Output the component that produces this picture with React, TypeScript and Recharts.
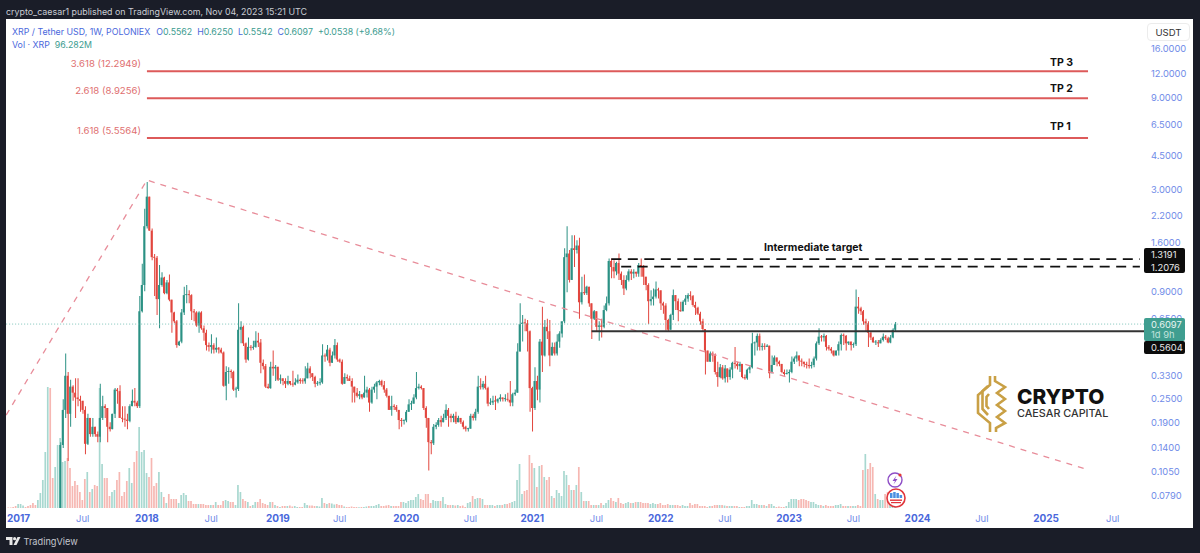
import React from "react";
import { ComposedChart, Bar, Line, XAxis, YAxis, Cell } from "recharts";

// weekly candles as [high, low, close]; week 0 = first week of 2017
const FIRST_CANDLE = 17;
const FIRST_OPEN = 0.04;
const candles2017: number[][] = [
  [.15,.045,.145],[.25,.14,.22],[.43,.2,.33],[.345,.12,.21],[.315,.18,.29],[.295,.245,.27],[.32,.2,.255],[.32,.23,.25],[.26,.215,.245],[.245,.21,.22],
  [.23,.13,.147],[.21,.145,.2],[.18,.16,.165],[.2,.16,.18],[.18,.16,.165],[.17,.15,.16],[.3,.15,.2],[.26,.195,.23],[.235,.2,.225],[.22,.15,.18],
  [.19,.17,.175],[.21,.175,.21],[.285,.2,.28],[.285,.237,.275],[.295,.2,.2],[.23,.19,.198],[.23,.18,.196],[.21,.175,.193],[.235,.19,.23],[.28,.23,.245],
  [.285,.23,.24],[.245,.225,.23],[.85,.225,.71],[1.25,.7,.97],[2.4,.9,1.95],
];
const candles2018: number[][] = [
  [3.3,1.9,2.77],[2.77,1.85,1.85],[1.9,1.3,1.35],[1.4,.85,1.34],[1.37,.68,.82],[1.23,.58,.97],[1.13,.95,1.06],[1.07,.87,.88],[1.03,.87,1.0],[1.1,.8,.815],
  [.81,.55,.7],[.705,.615,.63],[.64,.46,.475],[.5,.47,.495],[.73,.485,.7],[.95,.68,.86],[.97,.78,.87],[.91,.78,.86],[.87,.64,.71],[.73,.63,.7],
  [.71,.59,.6],[.71,.55,.7],[.71,.57,.58],[.6,.5,.55],[.57,.445,.475],[.49,.44,.465],[.54,.43,.475],[.485,.43,.45],[.52,.435,.46],[.465,.43,.45],
  [.46,.43,.435],[.44,.29,.293],[.37,.247,.345],[.365,.3,.347],[.355,.32,.345],[.35,.275,.28],[.29,.255,.282],[.78,.275,.57],[.63,.485,.59],[.6,.47,.485],
  [.49,.385,.4],[.52,.395,.465],[.475,.445,.46],[.5,.45,.465],[.56,.46,.5],[.55,.465,.49],[.51,.34,.385],[.4,.355,.37],[.38,.285,.29],[.3,.283,.285],
  [.39,.283,.367],[.445,.33,.36],
];
const candles2019: number[][] = [
  [.375,.31,.367],[.365,.31,.315],[.335,.3,.32],[.32,.295,.31],[.32,.285,.3],[.33,.295,.31],[.31,.295,.3],[.35,.29,.297],[.32,.295,.305],[.335,.3,.315],
  [.32,.3,.31],[.32,.3,.309],[.37,.3,.32],[.385,.32,.36],[.37,.32,.34],[.34,.31,.325],[.33,.288,.3],[.31,.293,.302],[.32,.295,.305],[.48,.3,.42],
  [.43,.39,.415],[.475,.395,.45],[.46,.37,.385],[.44,.39,.42],[.51,.405,.475],[.49,.39,.4],[.405,.385,.39],[.4,.297,.3],[.34,.3,.325],[.335,.31,.32],
  [.33,.31,.31],[.32,.24,.29],[.29,.24,.27],[.285,.255,.26],[.275,.25,.265],[.265,.25,.255],[.33,.255,.27],[.29,.255,.28],[.285,.215,.24],[.29,.237,.28],
  [.3,.27,.29],[.31,.25,.305],[.315,.295,.31],[.315,.29,.295],[.31,.27,.28],[.285,.255,.26],[.26,.22,.22],[.26,.205,.23],[.235,.22,.228],[.233,.215,.22],
  [.22,.175,.195],[.2,.18,.193],
];
const candles2020: number[][] = [
  [.196,.185,.194],[.22,.19,.215],[.25,.215,.235],[.245,.22,.237],[.265,.237,.255],[.345,.25,.285],[.3,.28,.29],[.295,.28,.285],[.285,.22,.225],[.23,.178,.2],
  [.2,.107,.15],[.154,.13,.148],[.186,.145,.18],[.19,.175,.184],[.2,.18,.195],[.205,.18,.19],[.21,.19,.2],[.235,.195,.22],[.225,.18,.205],[.21,.19,.2],
  [.21,.19,.205],[.215,.186,.19],[.205,.19,.2],[.2,.186,.19],[.194,.175,.18],[.182,.17,.175],[.178,.17,.176],[.21,.176,.205],[.21,.194,.2],[.223,.194,.215],
  [.33,.21,.29],[.32,.28,.288],[.31,.28,.3],[.33,.28,.285],[.29,.23,.237],[.253,.233,.24],[.26,.233,.245],[.26,.22,.243],[.253,.238,.25],[.265,.243,.255],
  [.253,.243,.25],[.265,.243,.25],[.27,.243,.248],[.31,.23,.24],[.27,.23,.265],[.28,.26,.27],[.485,.27,.44],[.78,.44,.61],[.68,.495,.62],[.65,.56,.615],
  [.64,.44,.56],[.565,.215,.285],
];
const candles2021: number[][] = [
  [.29,.17,.225],[.365,.22,.31],[.33,.247,.28],[.51,.24,.495],[.75,.345,.42],[.64,.415,.59],[.65,.51,.56],[.64,.37,.42],[.49,.42,.465],[.49,.42,.43],
  [.54,.42,.495],[.56,.46,.545],[.63,.52,.63],[1.5,.615,1.35],[1.95,.89,1.41],[1.47,1.0,1.03],[1.75,1.03,1.5],[1.75,1.2,1.47],[1.65,1.41,1.55],[1.7,.65,.79],
  [1.07,.77,.89],[1.1,.86,.88],[.96,.86,.95],[.95,.75,.78],[.78,.51,.65],[.72,.64,.71],[.71,.56,.59],[.63,.5,.6],[.65,.52,.59],[.76,.58,.72],
  [.845,.71,.78],[1.33,.76,1.29],[1.33,1.05,1.2],[1.3,1.05,1.14],[1.28,1.09,1.26],[1.41,1.03,1.11],[1.14,.97,1.03],[1.09,.86,.93],[1.09,.91,1.03],[1.17,1.01,1.14],
  [1.17,1.03,1.11],[1.17,1.05,1.135],[1.135,1.07,1.11],[1.26,1.07,1.23],[1.33,1.07,1.21],[1.23,.97,1.07],[1.07,.91,.97],[.99,.61,.8],[.91,.76,.82],[.93,.76,.845],
  [1.01,.825,.92],[.94,.825,.91],
];
const candles2022: number[][] = [
  [.91,.72,.78],[.795,.69,.76],[.78,.565,.64],[.65,.555,.57],[.69,.58,.68],[.92,.64,.86],[.85,.72,.8],[.825,.63,.72],[.795,.705,.71],[.81,.71,.795],
  [.86,.765,.825],[.88,.795,.86],[.9,.81,.85],[.86,.75,.765],[.795,.68,.74],[.75,.68,.69],[.705,.605,.63],[.65,.555,.575],[.575,.335,.445],[.445,.39,.39],
  [.44,.39,.43],[.44,.39,.42],[.43,.335,.345],[.39,.29,.325],[.38,.32,.365],[.375,.315,.32],[.375,.305,.36],[.34,.305,.325],[.365,.315,.355],[.39,.32,.385],
  [.465,.36,.38],[.39,.355,.37],[.39,.345,.38],[.38,.32,.325],[.335,.315,.32],[.36,.315,.355],[.375,.34,.365],[.55,.36,.485],[.495,.42,.49],[.545,.445,.53],
  [.545,.445,.465],[.485,.445,.47],[.485,.45,.465],[.48,.465,.472],[.472,.32,.34],[.42,.34,.375],[.42,.375,.41],[.405,.37,.39],[.395,.37,.38],[.38,.34,.345],
  [.355,.33,.337],[.355,.335,.34],
];
const candles2023: number[][] = [
  [.355,.305,.345],[.415,.34,.39],[.415,.38,.405],[.44,.39,.42],[.42,.37,.395],[.405,.37,.39],[.38,.365,.38],[.39,.36,.375],[.405,.36,.37],[.39,.36,.375],
  [.415,.365,.405],[.495,.395,.485],[.58,.475,.525],[.535,.495,.52],[.545,.495,.53],[.535,.445,.465],[.475,.445,.455],[.465,.43,.445],[.445,.415,.42],[.44,.42,.445],
  [.495,.42,.48],[.545,.445,.535],[.545,.475,.53],[.535,.445,.485],[.495,.475,.495],[.495,.445,.475],[.49,.46,.48],[.92,.47,.75],[.84,.69,.735],[.75,.68,.71],
  [.72,.605,.63],[.65,.555,.615],[.63,.465,.55],[.555,.505,.52],[.525,.495,.49],[.505,.475,.49],[.505,.465,.485],[.515,.485,.505],[.545,.495,.525],[.535,.505,.515],
  [.525,.485,.49],[.535,.485,.52],[.58,.515,.57],[.625,.5542,.6097],
];
const CANDLES = [...candles2017, ...candles2018, ...candles2019, ...candles2020, ...candles2021, ...candles2022, ...candles2023];

// volume, weeks -4 ... 355, relative units
const FIRST_VOLUME = -4;
const volumes: number[] = [
  .5,.5,1,2,4,4,2.5,1,2,3,5,3,8,15,28,56,121,120,30,41,
  63,70,46,47,50,40,22,27,23,16,8,29,36,16,19,23,22,120,44,30,
  30,12,16,18,28,36,12,16,27,40,25,46,57,81,56,58,35,31,50,22,
  25,36,16,11,5,14,9,9,9,5,13,15,13,7,7,4,4,4,4,4,
  3,3,3,3,6,3,3,7,8,7,6,6,3,23,16,9,7,6,2,3,
  6,6,9,5,4,3,6,6,3,2,1,2,2,2,2.5,1.5,2,1,1,1,
  5,3,2.5,2.5,2,2,1.5,10,5,4,5,4.5,3.5,4,3,3,1.5,1,1,1.5,
  1,1,.7,1,1,1.5,2,2,2,3,4,2,2,2.5,3,2,2,2,2,6,
  6,5,7,8,8,11,14,9,8,14,14,5,8,7,7,7,11,4,3,3,
  3,2.5,3,2,2.5,1,5,6,12,9,10,10,9,3,3,3,3,2,3,3,
  3,4,4,5,6,7,28,44,14,17,18,53,45,40,21,42,43,31,28,31,
  12,10,18,15,12,37,33,23,18,18,23,41,16,7,7,7,3,3,3,3,
  5,3,5,8,10,7,6,10,5,4,5,6,5,5,6,6,6,5,5,5,
  4,5,4,4,5,3,3,4,3,3,3,3,2,3,2,2,5,3,4,4,
  2,2,2,1,2,2,3,3,3,3,2.5,2,2,2,2,2,1,1,1,2,
  2,8,4,4,3,3,3,2,4,4,2,1,1.5,1,1,2,6,9,9,9,
  8,9,9,8,7,6,6,4,3,3,2,3,2,2,2,3,3,4,2,2,
  2,2,2,2,3,2,38,54,39,45,41,14,9,8,8,14,16,10,8,5,
];
const GREEN_VOLUMES = [0, 1, 2, 8, 9, 10, 11, 12, 15, 16, 343];

const Y_TICKS = [16, 12, 9, 6.5, 4.5, 3, 2.2, 1.6, 0.9, 0.65, 0.33, 0.25, 0.19, 0.14, 0.105, 0.079];
const X_TICKS = [0, 26, 52, 78, 105, 130, 157, 183, 208, 234, 260, 286, 312, 338, 364, 390, 416, 443];
const X_LABELS = ["2017", "Jul", "2018", "Jul", "2019", "Jul", "2020", "Jul", "2021", "Jul", "2022", "Jul", "2023", "Jul", "2024", "Jul", "2025", "Jul"];

const FIB_VALUES = [12.2949, 8.9256, 5.5564];
const FIB_WEEKS = [52, 433];
const TREND_POINTS: [number, number][] = [[-5, 0.2067], [52, 3.37], [433, 0.108]];
const TARGET_HIGH = { value: 1.3191, from: 240 };
const TARGET_LOW = { value: 1.2076, from: 244 };
const SUPPORT = { value: 0.5604, from: 232 };
const LAST_PRICE = 0.6097;
const FIRST_WEEK = -5;
const LAST_WEEK = 456;

const UP = "#2b9184";
const DOWN = "#e2463e";
const VOL_UP = "#a8d8d0";
const VOL_DOWN = "#f6b7b2";
const TICK_BLUE = "#6f8be8";

type Row = Record<string, any>;
const rows: Row[] = [];
for (let i = FIRST_WEEK; i <= LAST_WEEK; i++) {
  const r: Row = { i };
  const k = i - FIRST_CANDLE;
  if (k >= 0 && k < CANDLES.length) {
    const [h, l, c] = CANDLES[k];
    const o = k === 0 ? FIRST_OPEN : CANDLES[k - 1][2];
    let top = Math.max(o, c);
    const bot = Math.min(o, c);
    if (top < bot * 1.012) top = bot * 1.012;
    r.wick = [Math.min(l, bot), Math.max(h, top)];
    r.body = [bot, top];
    r.up = c >= o;
  }
  const vi = i - FIRST_VOLUME;
  if (vi >= 0 && vi < volumes.length) {
    r.vol = volumes[vi];
    r.volUp = GREEN_VOLUMES.includes(i) || (r.up === true && i !== 21);
  }
  FIB_VALUES.forEach((v, n) => {
    if (FIB_WEEKS.includes(i)) r["fib" + n] = v;
  });
  const t = TREND_POINTS.find((p) => p[0] === i);
  if (t) r.trend = t[1];
  if (i === TARGET_HIGH.from || i === LAST_WEEK - 2) r.tHigh = TARGET_HIGH.value;
  if (i === TARGET_LOW.from || i === LAST_WEEK - 2) r.tLow = TARGET_LOW.value;
  if (i === SUPPORT.from || i === LAST_WEEK) r.support = SUPPORT.value;
  if (i === FIRST_WEEK || i === LAST_WEEK) r.last = LAST_PRICE;
  rows.push(r);
}

const XTick = (p: any) => {
  const idx = X_TICKS.indexOf(p.payload.value);
  const label = X_LABELS[idx];
  const year = label !== "Jul";
  return (
    <text x={p.x} y={502.5} textAnchor="middle" fontFamily="Inter" fontSize={year ? 10 : 9.5} fontWeight={year ? 700 : 400} fill={year ? "#4a68dc" : "#6f8be8"}>
      {label}
    </text>
  );
};

const abs = (x: number, y: number, extra: React.CSSProperties = {}): React.CSSProperties => ({
  position: "absolute", left: x, top: y, whiteSpace: "nowrap", lineHeight: 1, ...extra,
});

const Tag = ({ y, h, bg, children }: { y: number; h: number; bg: string; children: React.ReactNode }) => (
  <div style={abs(1144, y, { width: 41, height: h, background: bg, borderRadius: 2 })}>{children}</div>
);

const TagText = ({ y, color, children }: { y: number; color: string; children: React.ReactNode }) => (
  <div style={abs(7, y, { color, fontSize: 9.4, fontFamily: "Inter" })}>{children}</div>
);

const fibLabels = [
  { t: "3.618 (12.2949)", y: 59 },
  { t: "2.618 (8.9256)", y: 86 },
  { t: "1.618 (5.5564)", y: 126 },
];
const tpLabels = [
  { t: "TP 3", y: 58 },
  { t: "TP 2", y: 84 },
  { t: "TP 1", y: 122 },
];
const GREEN_TEXT = "#3c9c90";

export default function App() {
  return (
    <div style={{ position: "absolute", left: 0, top: 0, width: 1200, height: 553, background: "#1a1d28", overflow: "hidden", fontFamily: "Inter" }}>
      <div style={abs(6, 8, { color: "#c9ccd3", fontSize: 8.9 })}>crypto_caesar1 published on TradingView.com, Nov 04, 2023 15:21 UTC</div>
      <div style={{ position: "absolute", left: 6, top: 19, width: 1187, height: 509, background: "#fff" }}>
        <ComposedChart width={1187} height={509} data={rows} margin={{ top: 0, right: 0, bottom: 0, left: 0 }}>
          <XAxis xAxisId="w" dataKey="i" type="number" domain={[-5.06, 456.07]} ticks={X_TICKS} interval={0} height={20} axisLine={false} tickLine={false} tickSize={0} tick={<XTick />} allowDataOverflow />
          <XAxis xAxisId="b" dataKey="i" type="number" domain={[-5.06, 456.07]} hide height={0} allowDataOverflow />
          <XAxis xAxisId="v" dataKey="i" type="number" domain={[-5.06, 456.07]} hide height={0} allowDataOverflow />
          <YAxis yAxisId="p" orientation="right" type="number" scale="log" domain={[0.0686, 22.85]} ticks={Y_TICKS} interval={0} width={48} axisLine={false} tickLine={false} tickSize={0} tickMargin={6} allowDataOverflow tick={{ fill: TICK_BLUE, fontSize: 9.3, fontFamily: "Inter", textAnchor: "start" }} tickFormatter={(v: number) => v.toFixed(4)} />
          <YAxis yAxisId="vol" orientation="left" type="number" domain={[0, 489]} hide />
          <Bar xAxisId="v" yAxisId="vol" dataKey="vol" barSize={1.7} isAnimationActive={false}>
            {rows.map((r) => <Cell key={r.i} fill={r.volUp ? VOL_UP : VOL_DOWN} />)}
          </Bar>
          <Bar xAxisId="w" yAxisId="p" dataKey="wick" barSize={1} isAnimationActive={false}>
            {rows.map((r) => <Cell key={r.i} fill={r.up ? UP : DOWN} />)}
          </Bar>
          <Bar xAxisId="b" yAxisId="p" dataKey="body" barSize={2} isAnimationActive={false}>
            {rows.map((r) => <Cell key={r.i} fill={r.up ? UP : DOWN} />)}
          </Bar>
          <Line xAxisId="w" yAxisId="p" dataKey="last" stroke="#7fc4ba" strokeWidth={1} strokeDasharray="1 2" dot={false} connectNulls isAnimationActive={false} />
          <Line xAxisId="w" yAxisId="p" dataKey="trend" stroke="#e88d9a" strokeWidth={1.3} strokeDasharray="6 6" dot={false} connectNulls isAnimationActive={false} />
          {FIB_VALUES.map((_, n) => (
            <Line key={n} xAxisId="w" yAxisId="p" dataKey={"fib" + n} stroke="#dd5a5a" strokeWidth={2} dot={false} connectNulls isAnimationActive={false} />
          ))}
          <Line xAxisId="w" yAxisId="p" dataKey="tHigh" stroke="#111" strokeWidth={1.8} strokeDasharray="10 6.5" dot={false} connectNulls isAnimationActive={false} />
          <Line xAxisId="w" yAxisId="p" dataKey="tLow" stroke="#111" strokeWidth={1.8} strokeDasharray="10 6.5" dot={false} connectNulls isAnimationActive={false} />
          <Line xAxisId="w" yAxisId="p" dataKey="support" stroke="#333" strokeWidth={2} dot={false} connectNulls isAnimationActive={false} />
        </ComposedChart>
      </div>

      <div style={abs(12, 27.5, { fontSize: 8.8, color: "#4a68dc" })}>
        XRP / Tether USD, 1W, POLONIEX
        <span style={{ marginLeft: 6 }}>O</span><span style={{ color: GREEN_TEXT }}>0.5562</span>
        <span style={{ marginLeft: 5 }}>H</span><span style={{ color: GREEN_TEXT }}>0.6250</span>
        <span style={{ marginLeft: 5 }}>L</span><span style={{ color: GREEN_TEXT }}>0.5542</span>
        <span style={{ marginLeft: 5 }}>C</span><span style={{ color: GREEN_TEXT }}>0.6097</span>
        <span style={{ marginLeft: 5, color: GREEN_TEXT }}>+0.0538 (+9.68%)</span>
      </div>
      <div style={abs(12, 40.5, { fontSize: 8.8, color: "#4a68dc" })}>
        Vol · XRP<span style={{ marginLeft: 5, color: GREEN_TEXT }}>96.282M</span>
      </div>

      {fibLabels.map((f) => (
        <div key={f.t} style={abs(40, f.y, { width: 101, textAlign: "right", fontSize: 9.6, color: "#e07070" })}>{f.t}</div>
      ))}
      {tpLabels.map((f) => (
        <div key={f.t} style={abs(1050, f.y, { fontSize: 10.5, fontWeight: 700, color: "#111" })}>{f.t}</div>
      ))}
      <div style={abs(764, 243, { fontSize: 10.5, fontWeight: 700, color: "#111" })}>Intermediate target</div>

      <div style={abs(1147, 23, { width: 43, height: 18, border: "1px solid #ececec", borderRadius: 4, boxSizing: "border-box", color: "#333", fontSize: 9.6, textAlign: "center", lineHeight: "17px", background: "#fff" })}>USDT</div>

      <Tag y={248} h={25} bg="#0c0c0c">
        <TagText y={2} color="#e8e8e8">1.3191</TagText>
        <TagText y={15} color="#e8e8e8">1.2076</TagText>
      </Tag>
      <Tag y={318} h={23} bg="#3f9e90">
        <TagText y={2} color="#e6f4f1">0.6097</TagText>
        <TagText y={12} color="#bfe3dc">1d 9h</TagText>
      </Tag>
      <Tag y={341} h={12.5} bg="#0c0c0c">
        <TagText y={1.5} color="#e8e8e8">0.5604</TagText>
      </Tag>

      {/* logo */}
      <svg style={{ position: "absolute", left: 974, top: 373 }} width={38} height={62} viewBox="0 0 38 62" fill="none" stroke="#c9a045" strokeWidth={2.6}>
        <path d="M16 3 V12 L4 22 V40 L16 50 V59" />
        <path d="M14 13 L8.5 18 V36 L14 42" />
        <path d="M15 21 L12.5 24 V33 L15 36" />
        <path d="M21 3 V8 L31 14 L23 20 L31 26 L23 32 L31 38 L23 44 L31 50 L22 55 V59" />
      </svg>
      <div style={abs(1017, 387, { fontSize: 20.8, fontWeight: 800, color: "#111" })}>CRYPTO</div>
      <div style={abs(1017, 409, { fontSize: 10.8, fontWeight: 500, color: "#333" })}>CAESAR CAPITAL</div>

      {/* event badges */}
      <svg style={{ position: "absolute", left: 884, top: 470 }} width={24} height={38}>
        <circle cx={11} cy={10} r={7} fill="#fff" stroke="#8e4ec6" strokeWidth={1.4} />
        <path d="M12.5 5.5 L8.5 11 H11 L9.5 14.5 L13.5 9 H11 Z" fill="#8e4ec6" />
        <circle cx={16} cy={5} r={1.6} fill="#e53935" />
        <circle cx={12} cy={28} r={9} fill="#fff" stroke="#e0353b" strokeWidth={1.6} />
        <rect x={6} y={23} width={2.5} height={5} fill="#4a90e2" />
        <rect x={9.2} y={22} width={2.5} height={6} fill="#4a90e2" />
        <rect x={12.4} y={23} width={2.5} height={5} fill="#4a90e2" />
        <rect x={15.6} y={25} width={2.5} height={3} fill="#4a90e2" />
        <rect x={6} y={29.5} width={12} height={1.4} fill="#e0353b" />
        <rect x={7} y={32} width={10} height={1.2} fill="#e0353b" />
      </svg>

      {/* footer */}
      <svg style={{ position: "absolute", left: 6, top: 537 }} width={15} height={9}>
        <path d="M0 0 H6.5 V8 H3.5 V3 H0 Z M14.5 0 L10.5 8 H7.5 L11.5 0 Z" fill="#e8e8e8" />
        <circle cx={8.6} cy={1.7} r={1.6} fill="#e8e8e8" />
      </svg>
      <div style={abs(23.5, 536.5, { color: "#c4c7ce", fontSize: 9.2 })}>TradingView</div>
    </div>
  );
}
